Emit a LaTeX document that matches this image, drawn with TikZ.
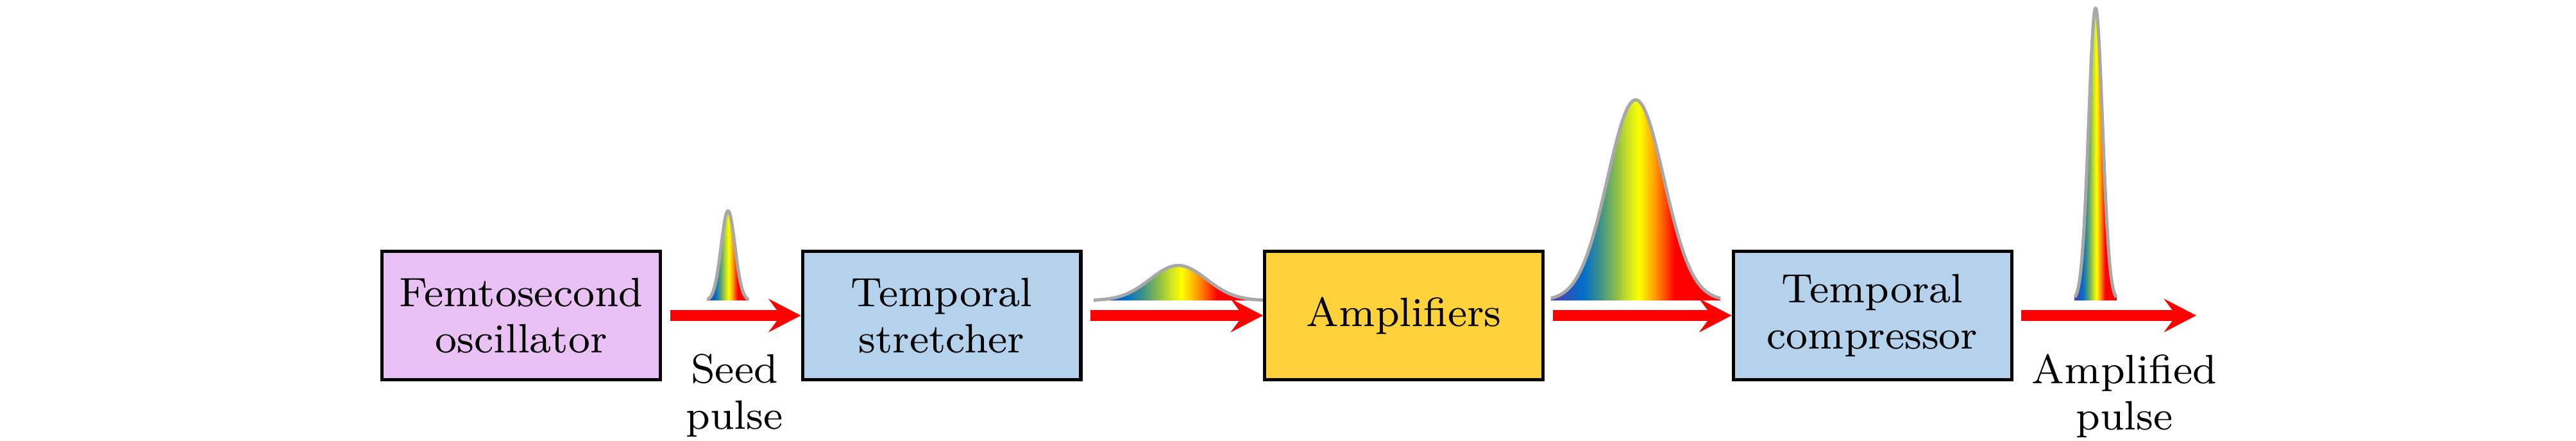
\documentclass[tikz,border=0pt]{standalone}
\usetikzlibrary{arrows.meta}

\definecolor{oscpurple}{RGB}{233,193,245}
\definecolor{stageblue}{RGB}{180,210,235}
\definecolor{ampyellow}{RGB}{255,210,60}
\definecolor{pulsegray}{RGB}{168,168,168}
\definecolor{specviolet}{RGB}{80,60,170}
\definecolor{specblue}{RGB}{0,110,200}
\definecolor{specteal}{RGB}{70,150,130}
\definecolor{specolive}{RGB}{140,190,70}
\definecolor{speclime}{RGB}{200,225,40}
\definecolor{specyellow}{RGB}{255,255,0}
\definecolor{specorange}{RGB}{255,160,0}
\definecolor{specdeep}{RGB}{255,80,0}
\definecolor{specred}{RGB}{255,0,0}

\pgfdeclarehorizontalshading{spectrum}{100bp}{color(0bp)=(specviolet); color(25bp)=(specviolet);
  color(34.5bp)=(specblue); color(40bp)=(specteal); color(44.25bp)=(specolive);
  color(47.5bp)=(speclime); color(51bp)=(specyellow); color(55.5bp)=(specorange);
  color(58.5bp)=(specdeep); color(61.5bp)=(specred); color(100bp)=(specred)}

\begin{document}
\begin{tikzpicture}[x=1.3158pt, y=1.3158pt,
		stage/.style={draw, line width=0.66pt, minimum width=57.1pt, minimum height=26.3pt, align=center, font=\fontsize{8.4}{9.5}\selectfont},
		beam/.style={specred, line width=2.24pt, shorten <=1.7pt, -{Stealth[length=6.6pt, width=6.8pt, inset=2.5pt]}},
		pulseline/.style={pulsegray, line width=0.66pt, line join=round},
		pulselabel/.style={align=center, font=\fontsize{8.4}{9.5}\selectfont, inner sep=0pt, anchor=north}]
	\useasboundingbox (0,0) rectangle (401.6,68.6);
	% pulses: centre / height / width
	\foreach \cx/\amp/\sig in {113.5/13.95/1.08, 183.7/5.45/4.4, 255/31.25/4.4, 326.7/45.55/1.08} {
		\shade[shading=spectrum] plot[domain=-3:3, samples=80] ({\cx+\sig*(\x)}, {21.8+\amp*exp(-0.5*(\x)*(\x))}) -- ({\cx+3*\sig}, 21.8) -- ({\cx-3*\sig}, 21.8) -- cycle;
		\draw[pulseline] plot[domain=-3:3, samples=80] ({\cx+\sig*(\x)}, {21.8+\amp*exp(-0.5*(\x)*(\x))});
	}
	\node[stage, fill=oscpurple] (osc) at (81.25,19.45) {Femtosecond\\oscillator};
	\node[stage, fill=stageblue] (stretch) at (146.8,19.45) {Temporal\\stretcher};
	\node[stage, fill=ampyellow] (ampl) at (218.85,19.45) {Amplifiers};
	\node[stage, fill=stageblue] (compress) at (291.9,19.45) {Temporal\\compressor};
	\coordinate (out) at (342.4,19.45);
	\draw[beam] (osc.east) -- (stretch.west);
	\draw[beam] (stretch.east) -- (ampl.west);
	\draw[beam] (ampl.east) -- (compress.west);
	\draw[beam] (compress.east) -- (out);
	\node[pulselabel] (seedlbl) at (114.5,13.6) {Seed\\pulse};
	\node[pulselabel] (outlbl) at (331.2,13.6) {Amplified\\pulse};
\end{tikzpicture}
\end{document}
